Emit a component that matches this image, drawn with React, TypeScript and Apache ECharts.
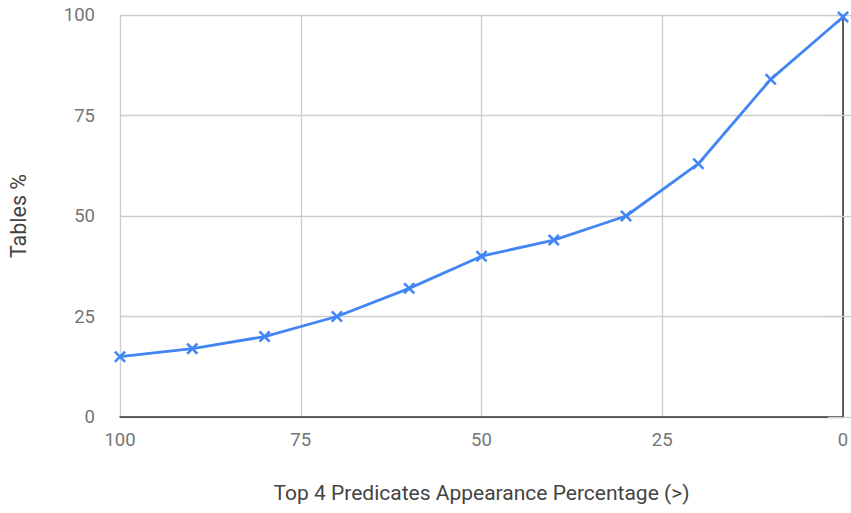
import React, { useEffect, useRef } from "react";
import * as echarts from "echarts";

const xValues = [100, 90, 80, 70, 60, 50, 40, 30, 20, 10, 0];
const tablesPct = [15, 17, 20, 25, 32, 40, 44, 50, 63, 84, 99.5];
const xTicks = [100, 75, 50, 25, 0];
const yTicks = [0, 25, 50, 75, 100];

const xSymbol = "path://M1.5,0 L5,3.5 L8.5,0 L10,1.5 L6.5,5 L10,8.5 L8.5,10 L5,6.5 L1.5,10 L0,8.5 L3.5,5 L0,1.5 Z";

export default function App() {
  const ref = useRef<HTMLDivElement>(null);
  useEffect(() => {
    if (!ref.current) return;
    const chart = echarts.init(ref.current, undefined, { renderer: "svg" });
    const font = "Roboto";
    chart.setOption({
      animation: false,
      textStyle: { fontFamily: font },
      grid: { left: 120, right: 8, top: 15, bottom: 96, containLabel: false, outerBoundsMode: "none" },
      xAxis: {
        type: "value",
        inverse: true,
        min: xTicks[xTicks.length - 1],
        max: xTicks[0],
        interval: 25,
        name: "Top 4 Predicates Appearance Percentage (>)",
        nameLocation: "middle",
        nameGap: 65,
        nameTextStyle: { fontSize: 21, color: "#444", fontFamily: font },
        axisLine: { show: true, onZero: false, lineStyle: { color: "#333", width: 1.5 } },
        axisTick: { show: false },
        axisLabel: { fontSize: 18.5, color: "#757575", margin: 13, fontFamily: font },
        splitLine: { show: true, lineStyle: { color: "#cccccc", width: 1.3 } },
      },
      yAxis: [
        {
          type: "value",
          min: yTicks[0],
          max: yTicks[yTicks.length - 1],
          interval: 25,
          name: "Tables %",
          nameLocation: "middle",
          nameGap: 91,
          nameTextStyle: { fontSize: 21.5, color: "#444", fontFamily: font },
          axisLine: { show: false },
          axisTick: { show: true, length: 15, lineStyle: { color: "#cccccc", width: 1.3 } },
          axisLabel: { fontSize: 18.5, color: "#757575", margin: 25, fontFamily: font },
          splitLine: { show: true, lineStyle: { color: "#cccccc", width: 1.3 } },
        },
        {
          type: "value",
          position: "right",
          min: yTicks[0],
          max: yTicks[yTicks.length - 1],
          interval: 25,
          axisLine: { show: true, lineStyle: { color: "#333", width: 1.5 } },
          axisTick: { show: true, length: 8, lineStyle: { color: "#cccccc", width: 1.3 } },
          axisLabel: { show: false },
          splitLine: { show: false },
        },
      ],
      series: [
        {
          type: "line",
          data: xValues.map((x, i) => [x, tablesPct[i]]),
          symbol: xSymbol,
          symbolSize: 12,
          showAllSymbol: true,
          lineStyle: { color: "#4285F4", width: 2.8 },
          itemStyle: { color: "#4285F4" },
        },
      ],
    });
    return () => chart.dispose();
  }, []);
  return <div ref={ref} style={{ width: 851, height: 513, position: "absolute", left: 0, top: 0 }} />;
}
